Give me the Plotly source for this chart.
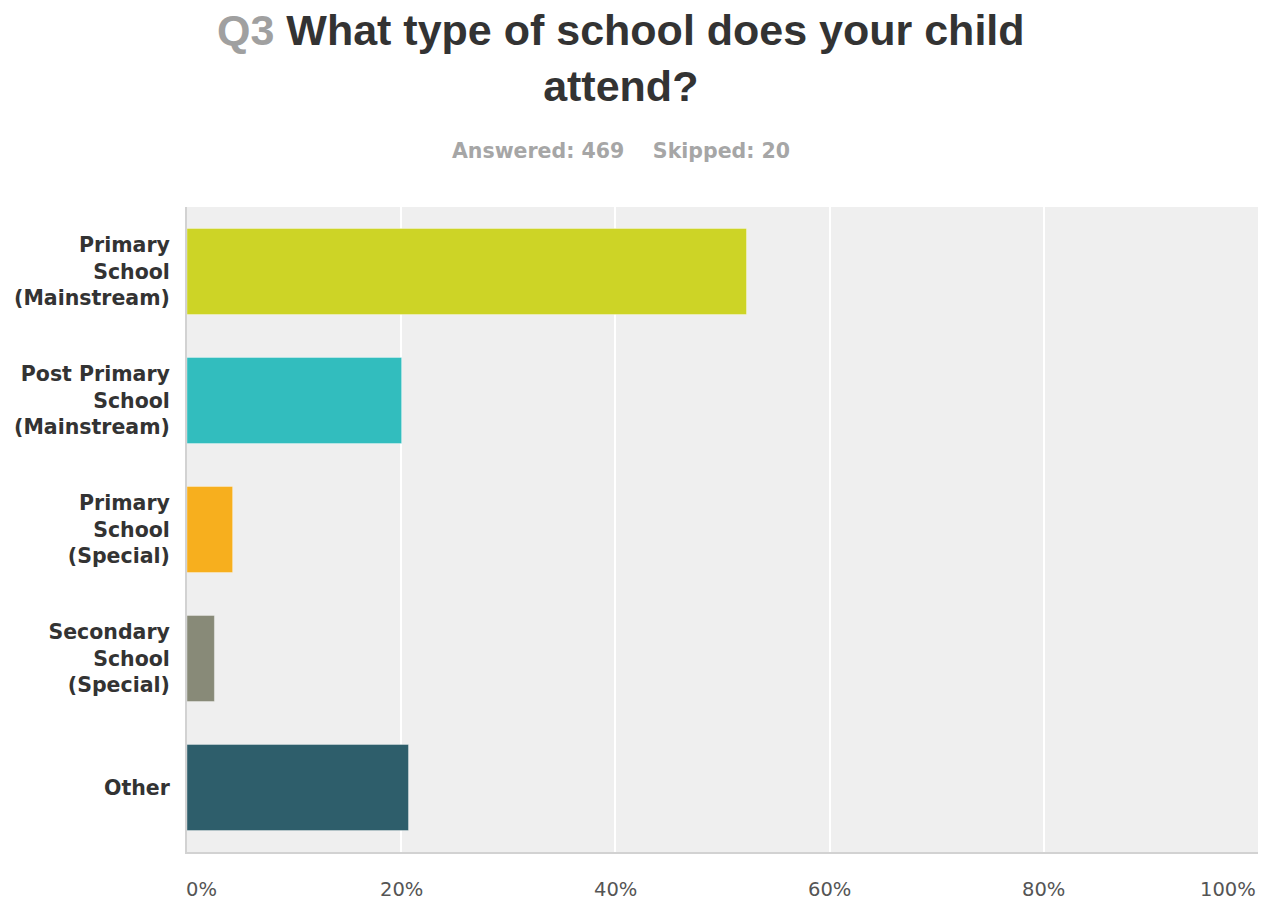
import plotly.graph_objects as go

# Survey responses (share of respondents, %)
categories = [
    "Primary<br>School<br>(Mainstream)",
    "Post Primary<br>School<br>(Mainstream)",
    "Primary<br>School<br>(Special)",
    "Secondary<br>School<br>(Special)",
    "Other",
]
percentages = [52.24, 20.04, 4.26, 2.56, 20.68]
bar_colors = ["#CDD426", "#32BDBE", "#F7AF1E", "#888A78", "#2E5E6B"]

tick_values = [0, 20, 40, 60, 80, 100]
tick_labels = ["0%", "20%", "40%", "60%", "80%", "100%"]

W, H = 1268, 901
M_L, M_R, M_T, M_B = 187, 10, 207, 49
plot_w = W - M_L - M_R
plot_h = H - M_T - M_B

fig = go.Figure(
    go.Bar(
        x=percentages,
        y=categories,
        orientation="h",
        marker=dict(color=bar_colors, line=dict(color="rgba(255,255,255,0.35)", width=1)),
        hoverinfo="x+y",
    )
)

# Axis tick labels along the bottom: first left-aligned, last right-aligned
annotations = []
for i, (v, t) in enumerate(zip(tick_values, tick_labels)):
    anchor = "left" if i == 0 else ("right" if i == len(tick_values) - 1 else "center")
    annotations.append(
        dict(
            x=v, xref="x", y=0, yref="paper",
            text=t, showarrow=False,
            xanchor=anchor, yanchor="middle", yshift=-37,
            xshift=-3 if i == 0 else 0,
            font=dict(family="DejaVu Sans", size=19.5, color="#555555"),
        )
    )

title_cx = 621
title_x = (title_cx - M_L) / plot_w

# Question title (two lines)
annotations.append(
    dict(
        x=title_x, xref="paper",
        y=1 + (M_T - 4) / plot_h, yref="paper",
        text="<span style='color:#a0a0a0'>Q3</span> What type of school does your child<br>attend?",
        showarrow=False, xanchor="center", yanchor="top", align="center",
        font=dict(family="Liberation Sans, Arial, sans-serif", size=43, color="#333333", weight="bold"),
    )
)

# Response counts line under the title
annotations.append(
    dict(
        x=title_x, xref="paper",
        y=1 + (M_T - 151) / plot_h, yref="paper",
        text="Answered: 469\u00a0\u00a0\u00a0\u00a0Skipped: 20",
        showarrow=False, xanchor="center", yanchor="middle",
        font=dict(family="DejaVu Sans", size=20.5, color="#a6a6a6", weight="bold"),
    )
)

fig.update_layout(
    width=W, height=H,
    margin=dict(l=M_L, r=M_R, t=M_T, b=M_B, pad=0),
    paper_bgcolor="white",
    plot_bgcolor="#efefef",
    showlegend=False,
    bargap=0.333,
    xaxis=dict(
        range=[0, 100],
        tickvals=tick_values,
        showticklabels=False,
        showgrid=True, gridcolor="white", gridwidth=2,
        zeroline=False,
        showline=True, linecolor="#d2d2d2", linewidth=2,
        fixedrange=True,
    ),
    yaxis=dict(
        autorange="reversed",
        showgrid=False, zeroline=False,
        showline=True, linecolor="#d2d2d2", linewidth=2,
        ticks="", ticklabelstandoff=11,
        tickfont=dict(family="DejaVu Sans", size=20.5, color="#333333", weight="bold"),
        fixedrange=True,
    ),
    annotations=annotations,
)

fig.write_html("out.html")
